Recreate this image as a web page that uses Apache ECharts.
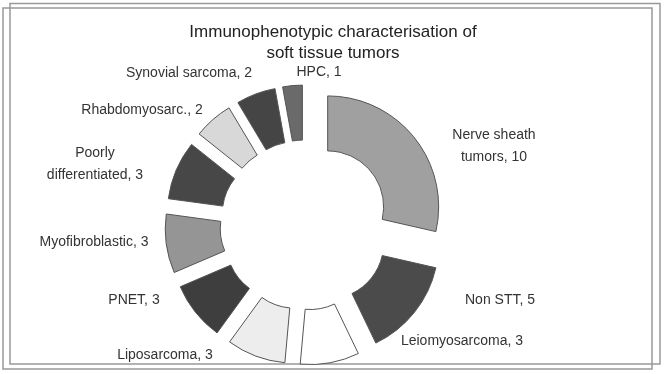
<!DOCTYPE html>
<html>
<head>
<meta charset="utf-8">
<script src="https://cdn.jsdelivr.net/npm/echarts@6/dist/echarts.min.js"></script>
<style>html,body{margin:0;padding:0;background:#fff;}#c{width:666px;height:374px;}</style>
</head>
<body>
<div id="c"></div>
<script>
const categories = ['Nerve sheath\ntumors', 'Non STT', 'Leiomyosarcoma', 'Liposarcoma', 'PNET', 'Myofibroblastic', 'Poorly\ndifferentiated', 'Rhabdomyosarc.', 'Synovial sarcoma', 'HPC'];
const values = [10, 5, 3, 3, 3, 3, 3, 2, 2, 1];
const titleText = 'Immunophenotypic characterisation of\nsoft tissue tumors';

// label layout (centre of each label block), styles
const labelCenters = [[494, 146], [500, 300], [462, 341], [165, 355], [134, 300], [94, 242], [95, 164], [142, 110], [189, 73], [319, 72]];
const fills = ['#a0a0a0', '#4b4b4b', '#ffffff', '#ededed', '#3e3e3e', '#959595', '#474747', '#d8d8d8', '#454545', '#6a6a6a'];
const explode = 29;

const total = values.reduce((a, b) => a + b, 0);
const midAngles = [];
values.reduce((acc, v) => { midAngles.push((acc + v / 2) / total * 2 * Math.PI); return acc + v; }, 0);

const chart = echarts.init(document.getElementById('c'), null, {renderer: 'canvas'});
const data = categories.map((c, i) => ({
  name: c,
  value: values[i],
  selected: true,
  itemStyle: {color: fills[i], borderColor: '#555', borderWidth: 1}
}));

chart.setOption({
  animation: false,
  backgroundColor: '#fff',
  title: {
    text: titleText,
    left: 'center',
    top: 17,
    textStyle: {fontFamily: 'Liberation Sans', fontSize: 17, fontWeight: 'normal', color: '#222', lineHeight: 21}
  },
  graphic: [
    {type: 'rect', shape: {x: 10, y: 3.5, width: 650, height: 360.5}, style: {fill: 'none', stroke: '#999', lineWidth: 1.5}},
    {type: 'rect', shape: {x: 3, y: 8, width: 649, height: 361}, style: {fill: 'none', stroke: '#999', lineWidth: 1.5}}
  ],
  series: [{
    type: 'pie',
    center: [305, 225],
    radius: [56, 111],
    startAngle: 90,
    clockwise: true,
    selectedMode: 'multiple',
    selectedOffset: explode,
    avoidLabelOverlap: false,
    emphasis: {disabled: true},
    select: {itemStyle: {borderColor: '#555', borderWidth: 1}},
    label: {
      show: true,
      position: 'outside',
      formatter: p => p.name + ', ' + p.value,
      fontFamily: 'Liberation Sans',
      fontSize: 14,
      color: '#333',
      lineHeight: 22,
      distanceToLabelLine: 0
    },
    labelLine: {show: false, length: 8, length2: 30},
    labelLayout: p => {
      const r = p.labelRect;
      const ax = p.align === 'left' ? r.x : (p.align === 'right' ? r.x + r.width : r.x + r.width / 2);
      const ay = r.y + r.height / 2;
      const t = labelCenters[p.dataIndex];
      const a = midAngles[p.dataIndex];
      const ox = explode * Math.sin(a), oy = -explode * Math.cos(a);
      return {dx: t[0] - ax - ox, dy: t[1] - ay - oy, align: 'center', hideOverlap: false};
    },
    data: data
  }]
});
</script>
</body>
</html>
